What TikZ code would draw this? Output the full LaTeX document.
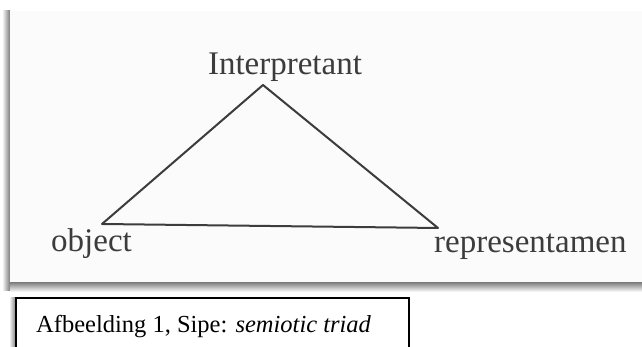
\documentclass[tikz,border=0pt]{standalone}
\usepackage{fontspec}
\setmainfont{Liberation Serif}
\definecolor{inkgrey}{HTML}{3C3C3C}
\definecolor{panelfill}{HTML}{FBFBFB}
\definecolor{shadowgrey}{HTML}{7A7A7A}
\tikzset{
  lbl/.style={inner sep=0pt, text=inkgrey, font=\fontsize{33}{36}\selectfont},
  edge/.style={draw=inkgrey, line width=2pt, line join=round, line cap=round},
  captionbox/.style={draw=black, line width=1.3pt, fill=white},
}
\begin{document}
\begin{tikzpicture}[x=1pt,y=1pt]
\useasboundingbox (0,0) rectangle (642,347);
\clip (0,0) rectangle (642,347);
\fill[white] (0,0) rectangle (642,347);
% panel shadows
\shade[left color=white, right color=shadowgrey] (2,56) rectangle (10,336);
\shade[top color=shadowgrey, bottom color=white] (10,65) rectangle (650,55);
\fill[panelfill] (10,65) rectangle (650,336);
% triangle vertices
\coordinate (top) at (263,262);
\coordinate (left) at (102,123);
\coordinate (right) at (438,119);
\draw[edge] (top) -- (left) -- (right) -- cycle;
% labels
\node[lbl, anchor=base] (interp) at (285,272) {Interpretant};
\node[lbl, anchor=base west] (obj) at (51,95) {object};
\node[lbl, anchor=base west] (repr) at (434,94) {representamen};
% caption box
\shade[left color=white, right color=shadowgrey] (9,-5) rectangle (16,49);
\draw[captionbox] (16,-10) rectangle (409,49);
\node[inner sep=0pt, anchor=base west, font=\fontsize{24.5}{27}\selectfont] (cap) at (36,14) {Afbeelding 1, Sipe: \textit{semiotic triad}};
\end{tikzpicture}
\end{document}
